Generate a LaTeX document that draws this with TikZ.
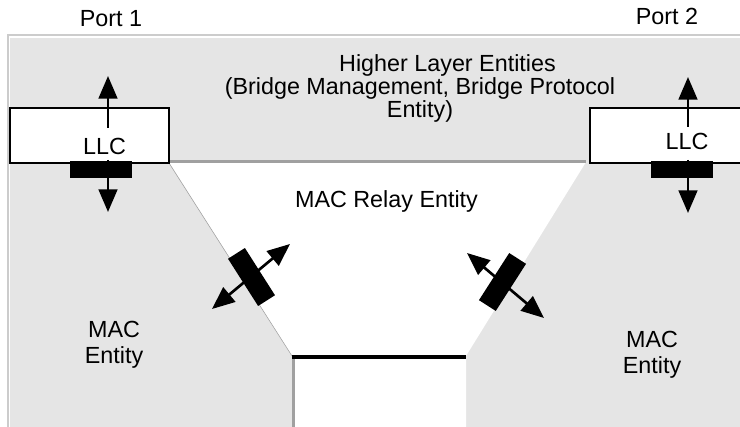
\documentclass[tikz,border=0pt]{standalone}
\usepackage{fontspec}
\setmainfont{Liberation Sans}
\usetikzlibrary{arrows.meta}
\definecolor{panel}{HTML}{E5E5E5}
\definecolor{frameline}{HTML}{CCCCCC}
\definecolor{shadow}{HTML}{A0A0A0}
\tikzset{
  lbl/.style={anchor=base, inner sep=0pt, font=\fontsize{17.5}{17.5}\selectfont},
  llcbox/.style={draw=black, fill=white, line width=1.1pt, minimum width=119.25pt, minimum height=41.25pt, inner sep=0pt},
  portbar/.style={fill=black, inner sep=0pt, minimum width=46.5pt, minimum height=12.75pt},
  tiltbar/.style={fill=black, inner sep=0pt, minimum width=42pt, minimum height=15pt},
  sap/.style={line width=2pt, -{Triangle[length=17pt, width=14pt]}},
  sapboth/.style={line width=2pt, {Triangle[length=17pt, width=14pt]}-{Triangle[length=17pt, width=14pt]}}
}

\begin{document}
\begin{tikzpicture}[x=0.75pt, y=-0.75pt]
    \useasboundingbox (0,0) rectangle (740,427);

    % Background panels
    \draw[frameline, line width=1.2pt] (8,427) -- (8,35) -- (740,35);
    \fill[panel] (10,38) rectangle (740,427);
    \fill[white] (169,162) -- (586,162) -- (466,356) -- (466,428) -- (292,428) -- (292,356) -- cycle;
    \draw[shadow, line width=0.4pt] (169,163) -- (292,356);
    \draw[shadow, line width=1.6pt] (170,161.5) -- (586,161.5);
    \draw[shadow, line width=1.6pt] (293.5,358) -- (293.5,427);
    \draw[black, line width=3pt] (292,357) -- (466,357);

    % LLC boxes
    \node[llcbox] (llcL) at (89.5,135.5) {};
    \node[llcbox] (llcR) at (669.5,135.5) {};

    % Texts
    \node[lbl] (port1) at (111,27) {Port 1};
    \node[lbl] (port2) at (667,25) {Port 2};
    \node[lbl] (hle1) at (447.5,72) {Higher Layer Entities};
    \node[lbl] (hle2) at (420,95) {(Bridge Management, Bridge Protocol};
    \node[lbl] (hle3) at (420,118) {Entity)};
    \node[lbl] (relay) at (386.5,208) {MAC Relay Entity};
    \node[lbl] (llcLtxt) at (104.5,155) {LLC};
    \node[lbl] (llcRtxt) at (687,150) {LLC};
    \node[lbl] (macL1) at (114,338) {MAC};
    \node[lbl] (macL2) at (114,364) {Entity};
    \node[lbl] (macR1) at (652,348) {MAC};
    \node[lbl] (macR2) at (652,374) {Entity};

    % Service access points of the LLC
    \coordinate (upLs) at (108,128);  \coordinate (upLt) at (108,76);
    \coordinate (dnLs) at (108,160);  \coordinate (dnLt) at (108,212);
    \coordinate (upRs) at (688,127);  \coordinate (upRt) at (688,77);
    \coordinate (dnRs) at (688,160);  \coordinate (dnRt) at (688,213);
    \draw[sap] (upLs) -- (upLt);
    \draw[sap] (dnLs) -- (dnLt);
    \draw[sap] (upRs) -- (upRt);
    \draw[sap] (dnRs) -- (dnRt);
    \node[portbar] (barL) at (101,169.5) {};
    \node[portbar] (barR) at (681.5,169.5) {};

    % Service access points of the relay
    \coordinate (tLa) at (212,309);  \coordinate (tLb) at (290,244);
    \coordinate (tRa) at (467,253);  \coordinate (tRb) at (544,318);
    \draw[sapboth] (tLa) -- (tLb);
    \draw[sapboth] (tRa) -- (tRb);
    \node[tiltbar, rotate=-57.5] (tiltL) at (251.5,277) {};
    \node[tiltbar, rotate=57.3] (tiltR) at (502.5,282) {};

\end{tikzpicture}
\end{document}
